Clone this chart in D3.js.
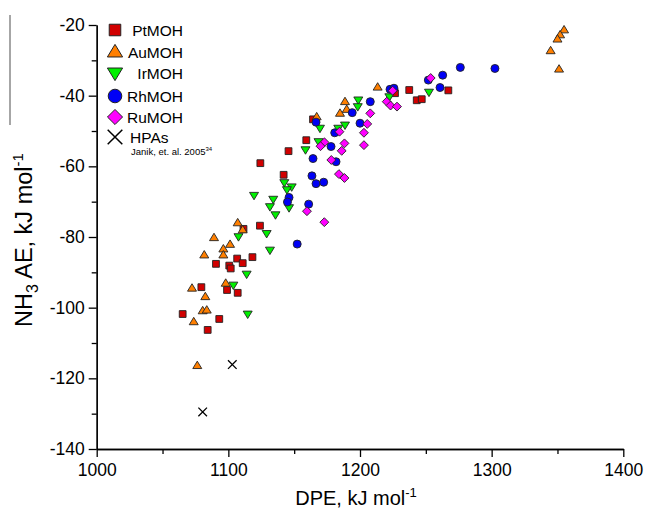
<!DOCTYPE html>
<html>
<head>
<meta charset="utf-8">
<script src="https://cdn.jsdelivr.net/npm/d3@7"></script>
<style>
body { margin: 0; background: #fff; }
text { font-family: "Liberation Sans", Arial, sans-serif; fill: #000; }
</style>
</head>
<body>
<div id="chart"></div>
<script>
// DPE (kJ/mol) vs NH3 adsorption energy (kJ/mol)
var ptMOH = [[1226.6,-39.3],[1237.4,-38.4],[1243.1,-41.3],[1246.9,-41.0],[1267.1,-38.5],[1164.3,-46.7],
  [1159.2,-52.6],[1145.7,-55.7],[1124.3,-59.1],[1142.0,-62.4],[1124.0,-76.8],[1111.5,-77.7],[1118.3,-85.7],
  [1106.7,-86.1],[1110.9,-87.4],[1090.6,-87.6],[1100.7,-88.1],[1101.8,-88.9],[1079.5,-94.2],[1099.0,-95.0],
  [1107.1,-95.8],[1065.3,-101.8],[1093.1,-103.2],[1084.3,-106.3]];
var auMOH = [[1355,-21.4],[1352,-22.8],[1350,-24.0],[1344.8,-27.3],[1351.2,-32.5],[1213.4,-37.6],[1188.6,-41.7],
  [1189.9,-43.9],[1184.8,-45.0],[1167.1,-46.0],[1107.1,-76.0],[1110.9,-78.0],[1089.1,-80.2],[1101.3,-82.1],
  [1096.2,-83.4],[1081.7,-85.1],[1096.2,-85.1],[1098.0,-93.1],[1072.4,-94.5],[1082.5,-96.9],[1080.5,-100.9],
  [1083.6,-100.7],[1073.7,-104.0],[1076.4,-116.4]];
var irMOH = [[1222.3,-40.3],[1252.4,-39.0],[1198.7,-41.2],[1198.3,-43.1],[1169.6,-49.2],[1183.5,-49.2],
  [1188.6,-48.3],[1168.5,-53.0],[1158.6,-55.3],[1119.5,-68.2],[1142.5,-64.6],[1148.1,-65.8],[1144.5,-66.6],
  [1134.1,-69.3],[1131.6,-71.4],[1146.1,-71.7],[1135.8,-73.7],[1129.1,-79.0],[1107.7,-79.9],[1131.6,-83.7],
  [1113.9,-90.5],[1103.8,-93.6],[1114.7,-101.8]];
var rhMOH = [[1302.5,-32.3],[1276.2,-32.0],[1262.8,-34.2],[1251.9,-35.6],[1260.8,-37.7],[1222.8,-38.2],
  [1225.8,-37.9],[1207.8,-41.7],[1194.1,-44.8],[1166.6,-47.5],[1200.0,-47.8],[1180.8,-50.5],[1178.0,-54.4],
  [1164.3,-57.8],[1181.8,-58.7],[1163.5,-62.7],[1166.6,-64.9],[1172.4,-64.5],[1146.1,-68.8],[1144.9,-70.1],
  [1161.0,-70.7],[1152.3,-82.0]];
var ruMOH = [[1253.7,-35.0],[1224.8,-38.6],[1220.3,-41.7],[1223.2,-42.8],[1228.1,-43.1],[1207.8,-45.0],
  [1205.5,-48.0],[1184.4,-50.2],[1203.0,-50.5],[1173.0,-53.2],[1170.0,-54.3],[1188.2,-53.5],[1186.1,-55.6],
  [1203.0,-54.0],[1178.2,-58.2],[1184.0,-62.2],[1188.2,-63.3],[1159.7,-72.7],[1172.9,-75.8]];
var hpas = [[1103.0,-116.1],[1080.5,-129.5]];

var seriesNames = ["PtMOH", "AuMOH", "IrMOH", "RhMOH", "RuMOH", "HPAs"];
var xTicks = [1000, 1100, 1200, 1300, 1400];
var xMinor = [1050, 1150, 1250, 1350];
var yTicks = [-140, -120, -100, -80, -60, -40, -20];
var yMinor = [-130, -110, -90, -70, -50, -30];

var width = 649, height = 509;

var x = d3.scaleLinear().domain([1000, 1400]).range([96.7, 623.3]);
var y = d3.scaleLinear().domain([-140, -20]).range([449, 25]);

var svg = d3.select("#chart").append("svg")
    .attr("width", width)
    .attr("height", height);

// marker shapes
function shape(type, s) {
  if (type == "square") return "M" + (-s) + "," + (-s) + "H" + s + "V" + s + "H" + (-s) + "Z";
  if (type == "up") return "M0," + (-s * 1.15) + "L" + (s * 1.15) + "," + (s * 0.75) + "L" + (-s * 1.15) + "," + (s * 0.75) + "Z";
  if (type == "down") return "M0," + (s * 1.15) + "L" + (s * 1.15) + "," + (-s * 0.75) + "L" + (-s * 1.15) + "," + (-s * 0.75) + "Z";
  if (type == "circle") return d3.symbol().type(d3.symbolCircle).size(Math.PI * s * s)();
  if (type == "diamond") return "M0," + (-s * 1.2) + "L" + (s * 1.2) + ",0L0," + (s * 1.2) + "L" + (-s * 1.2) + ",0Z";
  if (type == "x") return "M" + (-s) + "," + (-s) + "L" + s + "," + s + "M" + s + "," + (-s) + "L" + (-s) + "," + s;
}

var series = [
  {data: ptMOH, type: "square", fill: "#d10000", s: 3.4},
  {data: auMOH, type: "up", fill: "#ff7f00", s: 3.9},
  {data: irMOH, type: "down", fill: "#00f000", s: 3.9},
  {data: rhMOH, type: "circle", fill: "#0000f5", s: 4},
  {data: ruMOH, type: "diamond", fill: "#ff00ff", s: 3.7},
  {data: hpas, type: "x", fill: "none", s: 4.3}
];

// axes: minor first, then major with labels
svg.append("g")
    .attr("transform", "translate(0," + y(-140) + ")")
    .call(d3.axisBottom(x).tickValues(xMinor).tickSize(5).tickSizeOuter(0).tickFormat(""));
svg.append("g")
    .attr("transform", "translate(" + x(1000) + ",0)")
    .call(d3.axisLeft(y).tickValues(yMinor).tickSize(5).tickSizeOuter(0).tickFormat(""));

var xAxis = svg.append("g")
    .attr("transform", "translate(0," + y(-140) + ")")
    .call(d3.axisBottom(x).tickValues(xTicks).tickSize(8).tickSizeOuter(0).tickPadding(7)
      .tickFormat(d3.format("d")));
var yAxis = svg.append("g")
    .attr("transform", "translate(" + x(1000) + ",0)")
    .call(d3.axisLeft(y).tickValues(yTicks).tickSize(8).tickSizeOuter(0).tickPadding(4)
      .tickFormat(function(d){ return d; }));

svg.selectAll(".domain, .tick line").attr("stroke", "#000").attr("stroke-width", 1.3);
xAxis.selectAll("text").style("font-size", "17.5px").attr("fill", "#000");
yAxis.selectAll("text").style("font-size", "17.5px").attr("fill", "#000");

// axis titles
var xt = svg.append("text")
    .attr("x", 356)
    .attr("y", 505)
    .attr("text-anchor", "middle")
    .style("font-size", "20px");
xt.append("tspan").text("DPE, kJ mol");
xt.append("tspan").attr("dy", -8).style("font-size", "13px").text("-1");

var yt = svg.append("text")
    .attr("transform", "translate(32,240) rotate(-90)")
    .attr("text-anchor", "middle")
    .style("font-size", "23.5px");
yt.append("tspan").text("NH");
yt.append("tspan").attr("dy", 6).style("font-size", "16px").text("3");
yt.append("tspan").attr("dy", -6).text(" AE, kJ mol");
yt.append("tspan").attr("dy", -9).style("font-size", "15px").text("-1");

// stray rule at top-left of the original figure
svg.append("line")
    .attr("x1", 10).attr("x2", 10)
    .attr("y1", 15).attr("y2", 125)
    .attr("stroke", "#888")
    .attr("stroke-width", 1.5);

// points
series.forEach(function(sr) {
  svg.append("g").selectAll("path")
    .data(sr.data)
    .enter().append("path")
    .attr("transform", function(d) { return "translate(" + x(d[0]) + "," + y(d[1]) + ")"; })
    .attr("d", shape(sr.type, sr.s))
    .attr("fill", sr.fill)
    .attr("stroke", sr.type == "x" ? "#000" : "#222")
    .attr("stroke-width", sr.type == "x" ? 1.3 : 0.9);
});

// legend
var legRows = [30, 52, 73, 96, 117, 137];
var leg = svg.append("g");
series.forEach(function(sr, i) {
  leg.append("path")
    .attr("transform", "translate(115," + legRows[i] + ")")
    .attr("d", shape(sr.type, sr.s * 1.7))
    .attr("fill", sr.fill)
    .attr("stroke", sr.type == "x" ? "#000" : "#222")
    .attr("stroke-width", sr.type == "x" ? 1.5 : 1);
  var isLast = i == seriesNames.length - 1;
  leg.append("text")
    .attr("x", isLast ? 130 : 183)
    .attr("y", legRows[i] + 6)
    .attr("text-anchor", isLast ? "start" : "end")
    .style("font-size", "15.5px")
    .text(seriesNames[i]);
});
var cite = leg.append("text")
    .attr("x", 131)
    .attr("y", 155)
    .style("font-size", "9.5px");
cite.append("tspan").text("Janik, et. al. 2005");
cite.append("tspan").attr("dy", -4).style("font-size", "6px").text("34");
</script>
</body>
</html>
